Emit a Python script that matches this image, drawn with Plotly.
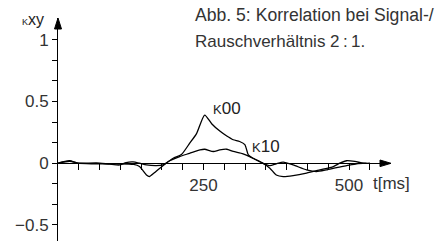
import plotly.graph_objects as go

# ---- data (t in ms, correlation K) ----
t_k00 = [0, 12, 20, 34, 60, 100, 130, 140, 152, 157, 165, 175, 186, 198, 212, 226, 238, 252,
         264, 278, 290, 301, 312, 321, 327, 335, 352, 364, 375, 387, 404, 427, 450, 473, 484,
         496, 510, 525, 536]
k00 = [0.0, 0.015, 0.02, 0.0, -0.005, -0.005, -0.01, -0.027, -0.095, -0.108, -0.08, -0.04, 0.0,
       0.04, 0.07, 0.16, 0.24, 0.39, 0.32, 0.26, 0.22, 0.19, 0.176, 0.15, 0.068, 0.04, 0.0,
       -0.04, -0.095, -0.108, -0.1, -0.08, -0.054, -0.027, 0.0, 0.02, 0.014, 0.0, 0.0]

t_k10 = [0, 20, 37, 66, 89, 106, 117, 129, 140, 152, 169, 180, 192, 209, 226, 244, 252, 267,
         278, 290, 301, 318, 335, 352, 364, 375, 387, 404, 427, 444, 461, 479, 496, 513, 530]
k10 = [0.0, 0.016, 0.0, 0.003, -0.008, -0.014, 0.005, 0.01, 0.0, -0.014, -0.02, -0.014, 0.02,
       0.054, 0.08, 0.108, 0.113, 0.095, 0.108, 0.113, 0.095, 0.076, 0.04, 0.0, -0.02, -0.005,
       0.008, -0.014, -0.054, -0.068, -0.054, -0.035, -0.02, -0.005, 0.0]

x_tick_labels = {250: "250", 500: "500"}
y_tick_labels = {1.0: "1", 0.5: "0.5", 0.0: "0", -0.5: "\u22120.5"}

# ---- geometry ----
W, H = 443, 241
ML, MR, MT, MB = 58, 53, 18, 0
xmin, xmax = 0, 570.4
ymin, ymax = -0.630, 1.176
pw, ph = W - ML - MR, H - MT - MB


def px(xp, yp):
    return (xp - ML) / pw, (H - MB - yp) / ph


xstep = 250 / 7
xt = [k * xstep for k in range(1, 16)]
xtt = [x_tick_labels.get(round(v), "") if abs(v - round(v)) < 1e-6 else "" for v in xt]
yt = [k / 6 for k in range(-3, 7)]
ytt = []
for v in yt:
    lab = ""
    for kv, s in y_tick_labels.items():
        if abs(v - kv) < 1e-6:
            lab = s
    ytt.append(lab)

FAM = "Liberation Sans, Arial, sans-serif"
font = dict(family=FAM, size=17, color="#333")

fig = go.Figure()
fig.add_trace(go.Scatter(x=t_k00, y=k00, mode="lines",
                         line=dict(color="black", width=1.3, shape="spline", smoothing=0.6),
                         hoverinfo="skip"))
fig.add_trace(go.Scatter(x=t_k10, y=k10, mode="lines",
                         line=dict(color="black", width=1.3, shape="spline", smoothing=0.6),
                         hoverinfo="skip"))

xpos = (0 - ymin) / (ymax - ymin)

fig.update_layout(
    width=W, height=H,
    margin=dict(l=ML, r=MR, t=MT, b=MB, pad=0),
    paper_bgcolor="white", plot_bgcolor="white",
    showlegend=False,
    xaxis=dict(range=[xmin, xmax], showgrid=False, zeroline=False, showline=True,
               linecolor="black", linewidth=1, anchor="free", position=xpos,
               tickmode="array", tickvals=xt, ticktext=xtt, ticks="outside",
               ticklen=6, tickwidth=1, tickcolor="black", tickfont=font),
    yaxis=dict(range=[ymin, ymax], showgrid=False, zeroline=False, showline=True,
               linecolor="black", linewidth=1,
               tickmode="array", tickvals=yt, ticktext=ytt, ticks="outside",
               ticklen=5, tickwidth=1, tickcolor="black", tickfont=font),
)

# arrows
ax0, ay0 = px(58, 18)
ax1, ay1 = px(58 - 3.5, 29)
ax2, _ = px(58 + 3.5, 29)
bx0, by0 = px(391, 163.3)
bx1, by1 = px(380, 160)
_, by2 = px(380, 166.6)
fig.add_shape(type="path", xref="paper", yref="paper",
              path=f"M {ax0},{ay0} L {ax1},{ay1} L {ax2},{ay1} Z",
              fillcolor="black", line=dict(color="black", width=1))
fig.add_shape(type="path", xref="paper", yref="paper",
              path=f"M {bx0},{by0} L {bx1},{by1} L {bx1},{by2} Z",
              fillcolor="black", line=dict(color="black", width=1))


def ann(text, xp, yp, size=16, xanchor="left", yanchor="middle", color="#333"):
    x, y = px(xp, yp)
    fig.add_annotation(text=text, x=x, y=y, xref="paper", yref="paper", showarrow=False,
                       xanchor=xanchor, yanchor=yanchor,
                       font=dict(family=FAM, size=size, color=color))


ann("Abb. 5: Korrelation bei Signal-/", 193, 15, size=17.6)
ann("Rauschverhältnis 2\u2009:\u20091.", 193, 41.5, size=17)
ann("t[ms]", 371, 183, size=17)
ann("<span style='font-size:9px'>K</span>xy", 20, 19, size=16, color="#222")
ann("<span style='font-size:13px'>K</span>00", 211, 108, size=17, color="#222")
ann("<span style='font-size:13px'>K</span>10", 250, 146, size=17, color="#222")

fig.write_html("out.html", config={"displayModeBar": False},
               post_script="document.body.style.margin='0';document.body.style.padding='0';")
